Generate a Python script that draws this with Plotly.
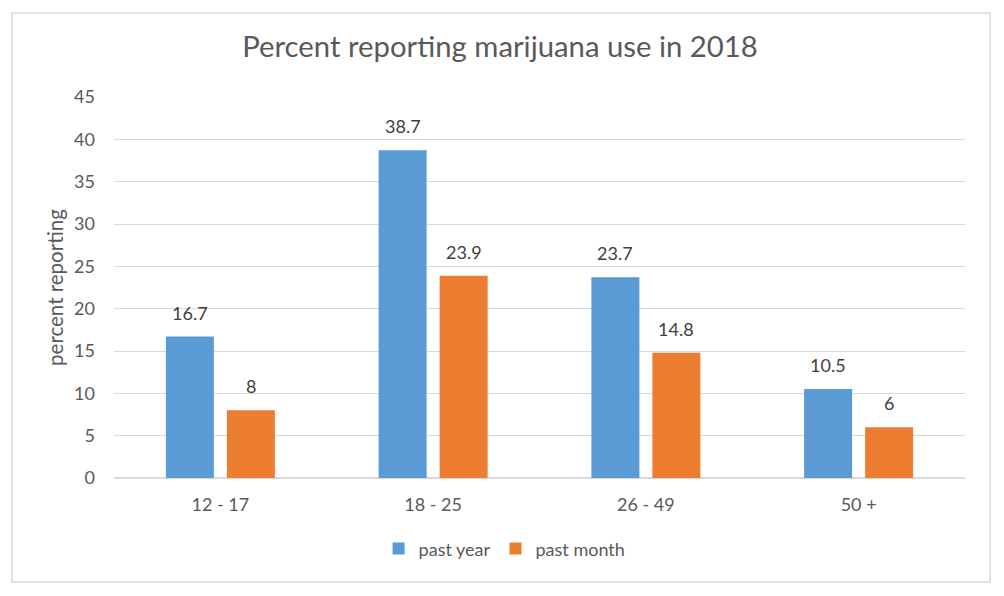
import plotly.graph_objects as go

categories = ["12 - 17", "18 - 25", "26 - 49", "50 +"]
past_year = [16.7, 38.7, 23.7, 10.5]
past_month = [8, 23.9, 14.8, 6]
y_ticks = [0, 5, 10, 15, 20, 25, 30, 35, 40, 45]

FONT = "Lato, Carlito, Calibri, sans-serif"
GREY = "#595959"
LABEL = "#404040"
FS = 18

fig = go.Figure()
fig.add_trace(go.Bar(
    x=categories, y=past_year, name="past year",
    marker=dict(color="#5B9BD5", line=dict(width=0)),
))
fig.add_trace(go.Bar(
    x=categories, y=past_month, name="past month",
    marker=dict(color="#ED7D31", line=dict(width=0)),
))

# data labels placed above bars via data coordinates
GROUP_HALF = 30.5
for vals, shift in ((past_year, -GROUP_HALF), (past_month, GROUP_HALF)):
    for c, v in zip(categories, vals):
        fig.add_annotation(x=c, y=v, xref="x", yref="y", text=f"{v:g}", showarrow=False,
                           xshift=shift, yanchor="bottom", yshift=11,
                           font=dict(family=FONT, size=FS, color=LABEL))

fig.update_layout(
    width=996, height=588,
    margin=dict(l=106, r=39, t=89, b=118),
    paper_bgcolor="white", plot_bgcolor="white",
    barmode="group", bargap=0.4265, bargroupgap=0.213,
    font=dict(family=FONT, color=GREY, size=FS),
    title=dict(text="Percent reporting marijuana use in 2018", x=0.494, xanchor="center",
               y=0.9337, yanchor="middle",
               font=dict(family=FONT, size=29.3, color=GREY)),
    xaxis=dict(showgrid=False, showline=False, ticks="", ticklabelstandoff=14,
               tickfont=dict(family=FONT, size=FS, color=GREY)),
    yaxis=dict(range=[0, 45], tickvals=y_ticks, showgrid=True, gridcolor="#D9D9D9", gridwidth=1,
               zeroline=True, zerolinecolor="#D9D9D9", zerolinewidth=1.5,
               ticks="", ticklabelstandoff=18, tickfont=dict(family=FONT, size=FS, color=GREY),
               title=dict(text="percent reporting", standoff=4,
                          font=dict(family=FONT, size=20.5, color=GREY))),
    showlegend=True,
    legend=dict(orientation="h", x=0.459, xanchor="center", y=-0.186, yanchor="middle",
                font=dict(family=FONT, size=FS, color=GREY), itemwidth=30,
                traceorder="normal"),
)

fig.add_shape(type="rect", xref="paper", yref="paper",
              x0=-0.1199, x1=1.0294, y0=-0.273, y1=1.2205,
              line=dict(color="#D9D9D9", width=1.5), fillcolor="rgba(0,0,0,0)", layer="below")

fig.write_html("out.html")
